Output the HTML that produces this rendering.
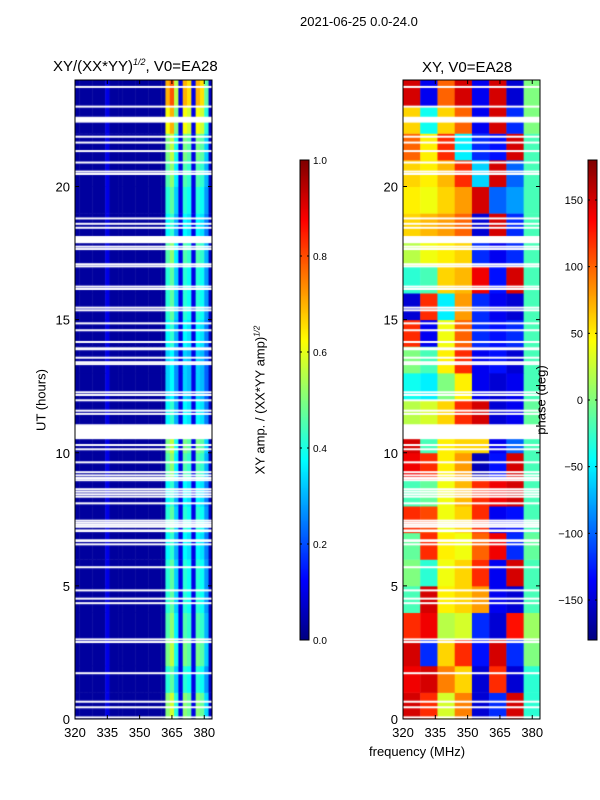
<!DOCTYPE html>
<html><head><meta charset="utf-8">
<style>
body{margin:0;background:#fff;}
#wrap{position:relative;width:600px;height:800px;font-family:"Liberation Sans",sans-serif;color:#000;overflow:hidden}
.t{position:absolute;white-space:nowrap}
canvas{position:absolute}
</style></head>
<body>
<div id="wrap">
<div class="t" style="left:300px;top:14px;font-size:13px">2021-06-25 0.0-24.0</div>
<div class="t" style="left:53px;top:57px;font-size:15px">XY/(XX*YY)<sup style="font-size:9px;font-style:italic">1/2</sup>, V0=EA28</div>
<div class="t" style="left:422px;top:59px;font-size:15px">XY, V0=EA28</div>
<canvas id="cl" width="137" height="639" style="left:75px;top:80px"></canvas>
<canvas id="cr" width="137" height="639" style="left:403px;top:80px"></canvas>
<canvas id="cb1" width="9" height="480" style="left:300px;top:160px"></canvas>
<canvas id="cb2" width="9" height="480" style="left:588px;top:160px"></canvas>
<svg id="ax" width="600" height="800" style="position:absolute;left:0;top:0"></svg>
<div class="t" style="top:400px;font-size:13px;transform:translate(-50%,-50%) rotate(-90deg);left:41px">UT (hours)</div>
<div class="t" style="left:260px;top:400px;font-size:13px;transform:translate(-50%,-50%) rotate(-90deg)">XY amp. / (XX*YY amp)<sup style="font-size:8px;font-style:italic">1/2</sup></div>
<div class="t" style="left:541px;top:400px;font-size:13px;transform:translate(-50%,-50%) rotate(-90deg)">phase (deg)</div>
<div class="t" style="left:369px;top:744px;font-size:13px">frequency (MHz)</div>
</div>
<script>
// ---- data ----
const fmin=320, fmax=383.6, tmin=0, tmax=24;
const xTicks=[320,335,350,365,380];
const yTicks=[0,5,10,15,20];
const ampTicks=[0.0,0.2,0.4,0.6,0.8,1.0];
const phaseTicks=[-150,-100,-50,0,50,100,150];
// amplitude channel profile (2 MHz channels from 320)
const ampProfile=[0.03,0.03,0.03,0.03,0.03,0.03,0.03,0.1,0.03,0.03,0.03,0.03,0.03,0.03,0.03,0.03,0.03,0.03,0.03,0.03,0.03,0.75,0.85,0.6,0.1,0.75,0.7,0.1,0.75,0.7,0.5,0.06];
// amplitude hourly brightness factor (hour 0..23)
const ampHour=[0.62,0.5,0.6,0.55,0.5,0.5,0.45,0.5,0.45,0.55,0.6,0.45,0.4,0.4,0.45,0.5,0.5,0.55,0.45,0.5,0.55,0.6,0.75,0.85];
// phase grid (deg), rows = hour 0..23, cols = 8 MHz bins from 320
const phaseGrid=[
[150,120,30,90,-150,-120,150,-30],
[140,150,90,60,-150,120,-150,-30],
[150,-120,60,120,-130,150,-120,0],
[120,140,20,30,-120,-150,130,10],
[-20,150,50,60,80,-140,-150,-20],
[0,-30,40,60,120,-140,150,-20],
[-10,120,50,40,100,140,-120,-10],
[120,110,40,60,120,-140,-130,-20],
[-20,-10,40,70,120,140,150,-20],
[140,120,50,80,-160,-130,150,-20],
[150,-20,50,60,60,-140,-100,-20],
[20,30,60,120,150,-150,-140,-10],
[-40,-50,0,50,-140,-150,-140,-20],
[0,-20,50,120,-140,-130,-150,-20],
[120,-140,40,100,-120,-130,-120,-20],
[-150,120,-50,80,-120,-140,-150,-20],
[-30,-20,60,70,140,-130,150,-20],
[20,40,50,60,-120,-140,-120,-20],
[60,70,80,100,-150,150,-120,-20],
[50,40,60,80,150,-100,-80,-20],
[60,50,70,120,-60,150,-100,-20],
[100,50,120,-50,-120,-130,150,-20],
[60,-40,60,100,-140,150,-120,0],
[150,-140,100,150,-140,150,-150,0]];
// flagged single lines (hours) and flagged ranges
const flagLines=[23.74,23.0,21.87,21.65,21.33,20.9,20.56,20.47,18.8,18.6,18.45,17.74,17.65,17.08,17.0,16.24,16.15,15.45,15.35,14.86,14.6,14.16,13.57,13.4,13.33,12.27,12.17,11.97,11.58,11.46,10.29,10.13,9.64,9.27,9.15,9.05,8.97,8.63,8.54,8.44,8.35,8.10,7.45,7.37,7.29,7.22,6.56,5.70,4.83,4.52,4.35,2.99,2.89,1.72,0.65,0.44,0.06];
const flagRanges=[[22.4,22.62],[17.87,18.14],[13.85,13.96],[10.51,11.07],[7.02,7.12],[6.65,6.75]];

// ---- helpers ----
function jet(v){v=Math.max(0,Math.min(1,v));
 const r=Math.max(0,Math.min(1,1.5-Math.abs(4*v-3))),g=Math.max(0,Math.min(1,1.5-Math.abs(4*v-2))),b=Math.max(0,Math.min(1,1.5-Math.abs(4*v-1)));
 return `rgb(${Math.round(r*255)},${Math.round(g*255)},${Math.round(b*255)})`;}
const W=137,H=639;
const xs=f=>(f-fmin)/(fmax-fmin)*W;
const ys=h=>H-(h-tmin)/(tmax-tmin)*H;

// amplitude heatmap
const cl=document.getElementById('cl').getContext('2d');
ampHour.forEach((hf,h)=>{ampProfile.forEach((p,i)=>{
 const v=p>0.3?p*hf*1.1:p;
 cl.fillStyle=jet(v);
 const x0=xs(320+2*i),x1=xs(322+2*i);
 cl.fillRect(x0,ys(h+1),x1-x0+0.5,ys(h)-ys(h+1)+0.5);});});
// phase heatmap
const cr=document.getElementById('cr').getContext('2d');
phaseGrid.forEach((row,h)=>{row.forEach((p,j)=>{
 cr.fillStyle=jet((p+180)/360);
 const x0=xs(320+8*j),x1=xs(Math.min(fmax,328+8*j));
 cr.fillRect(x0,ys(h+1),x1-x0+0.5,ys(h)-ys(h+1)+0.5);});});
// flags
[cl,cr].forEach(c=>{c.fillStyle='#fff';
 flagLines.forEach(h=>c.fillRect(0,ys(h)-1,W,2));
 flagRanges.forEach(r=>c.fillRect(0,ys(r[1]),W,ys(r[0])-ys(r[1])));});
// colorbars
const b1=document.getElementById('cb1').getContext('2d'),b2=document.getElementById('cb2').getContext('2d');
for(let i=0;i<480;i++){b1.fillStyle=jet(1-i/480);b1.fillRect(0,i,9,1);b2.fillStyle=jet(1-i/480);b2.fillRect(0,i,9,1);}

// axes
const NS='http://www.w3.org/2000/svg',svg=document.getElementById('ax');
function el(t,a,txt){const e=document.createElementNS(NS,t);for(const k in a)e.setAttribute(k,a[k]);if(txt!==undefined)e.textContent=txt;svg.appendChild(e);return e;}
[[75,'left'],[403,'right']].forEach(([L,side])=>{
 const f=el('rect',{x:L,y:80,width:W,height:H,fill:'none',stroke:'#000','stroke-width':1});
 
 
 xTicks.forEach(t=>{const x=L+xs(t);
  el('line',{x1:x,x2:x,y1:719,y2:715,stroke:'#000'});el('line',{x1:x,x2:x,y1:80,y2:84,stroke:'#000'});
  const tx=el('text',{x:x,y:737,'font-size':13,'text-anchor':'middle','font-family':'Liberation Sans'},t);
  
  });
 yTicks.forEach(t=>{const y=80+ys(t);
  el('line',{x1:L,x2:L+4,y1:y,y2:y,stroke:'#000'});el('line',{x1:L+W,x2:L+W-4,y1:y,y2:y,stroke:'#000'});
  const tx=el('text',{x:L-5,y:y+5,'font-size':13,'text-anchor':'end','font-family':'Liberation Sans'},t);
  
  });
});
[[300,ampTicks,0,1,v=>v.toFixed(1),'amp',313,'start'],[588,phaseTicks,-180,180,v=>v<0?'\u2212'+(-v):''+v,'phase',583,'end']].forEach(([L,ticks,a,b,fmt,nm,lx,anc])=>{
 el('rect',{x:L,y:160,width:9,height:480,fill:'none',stroke:'#000'});
 ticks.forEach(t=>{const y=640-(t-a)/(b-a)*480;
  el('line',{x1:L,x2:L+2,y1:y,y2:y,stroke:'#000'});el('line',{x1:L+9,x2:L+7,y1:y,y2:y,stroke:'#000'});
  const tx=el('text',{x:lx,y:y+4,'font-size':nm==='amp'?10:11,'text-anchor':anc,'font-family':'Liberation Sans'},fmt(t));
  
  });
});
</script>
</body></html>
